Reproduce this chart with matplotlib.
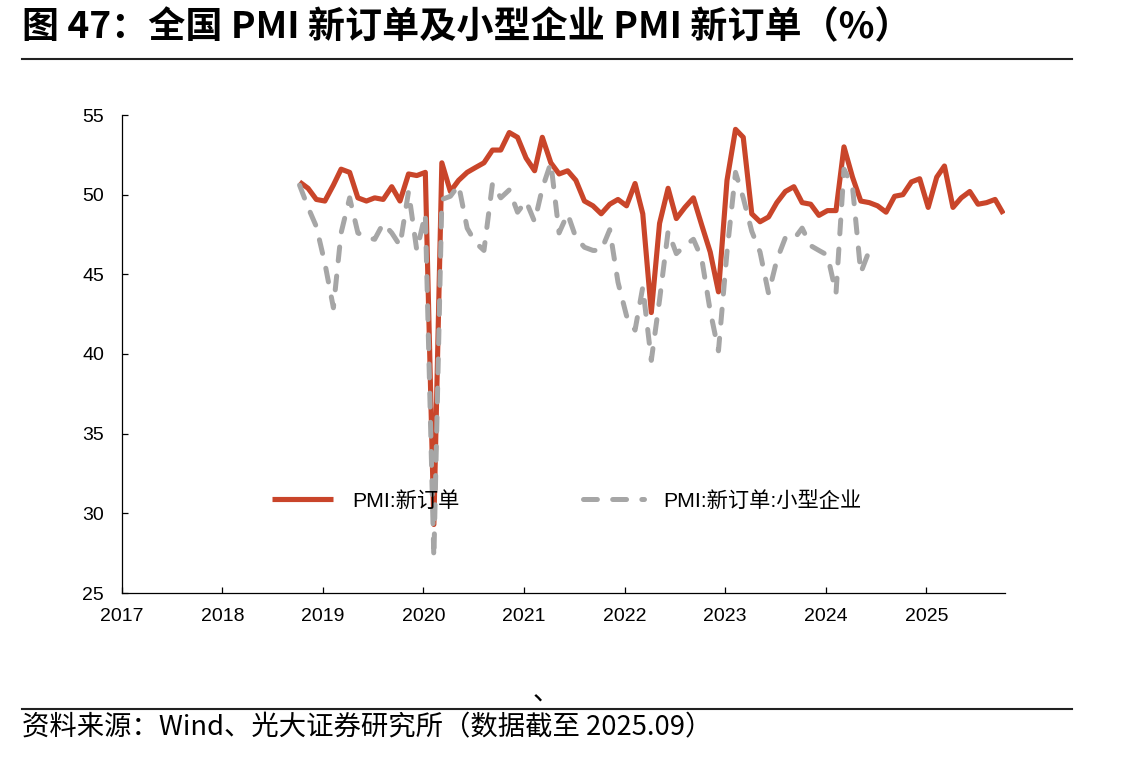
import matplotlib
matplotlib.use('Agg')
import matplotlib.pyplot as plt
import matplotlib.dates as mdates
import pandas as pd
from matplotlib.lines import Line2D

plt.rcParams['font.family'] = ['Liberation Sans', 'Noto Sans CJK SC', 'DejaVu Sans']
plt.rcParams['lines.scale_dashes'] = False

# ---------------- data ----------------
start_month = '2018-10-01'
pmi_new_orders = [50.8, 50.4, 49.7,
                  49.6, 50.6, 51.6, 51.4, 49.8, 49.6, 49.8, 49.7, 50.5, 49.6, 51.3, 51.2,
                  51.4, 29.3, 52.0, 50.2, 50.9, 51.4, 51.7, 52.0, 52.8, 52.8, 53.9, 53.6,
                  52.3, 51.5, 53.6, 52.0, 51.3, 51.5, 50.9, 49.6, 49.3, 48.8, 49.4, 49.7,
                  49.3, 50.7, 48.8, 42.6, 48.2, 50.4, 48.5, 49.2, 49.8, 48.1, 46.4, 43.9,
                  50.9, 54.1, 53.6, 48.8, 48.3, 48.6, 49.5, 50.2, 50.5, 49.5, 49.4, 48.7,
                  49.0, 49.0, 53.0, 51.1, 49.6, 49.5, 49.3, 48.9, 49.9, 50.0, 50.8, 51.0,
                  49.2, 51.1, 51.8, 49.2, 49.8, 50.2, 49.4, 49.5, 49.7, 48.8]
small_new_orders = [50.6, 49.2, 48.0,
                    45.7, 42.9, 47.6, 49.8, 47.6, 47.3, 47.2, 48.2, 47.6, 46.8, 50.2, 46.5,
                    48.8, 27.2, 49.7, 49.9, 50.6, 47.9, 47.0, 46.5, 50.7, 49.8, 50.3, 48.9,
                    49.6, 48.3, 50.4, 52.0, 47.6, 48.8, 47.3, 46.7, 46.5, 46.5, 47.8, 44.5,
                    42.4, 41.5, 44.2, 39.6, 43.4, 47.7, 46.3, 46.8, 47.2, 46.0, 42.7, 40.2,
                    46.4, 51.4, 49.8, 47.7, 46.4, 43.8, 45.9, 47.3, 47.2, 47.9, 46.8, 46.5,
                    46.2, 43.8, 51.6, 50.5, 45.1, 46.5]
series_labels = ['PMI:新订单', 'PMI:新订单:小型企业']
year_ticks = list(range(2017, 2026))
y_ticks = [25, 30, 35, 40, 45, 50, 55]

title_text = '图 47：全国 PMI 新订单及小型企业 PMI 新订单（%）'
source_text = '资料来源：Wind、光大证券研究所（数据截至 2025.09）'

# ---------------- figure ----------------
W, H = 1143, 757
fig = plt.figure(figsize=(W / 100, H / 100), dpi=100)

ax = fig.add_axes([122 / W, 1 - 593 / H, (1005 - 122) / W, (593 - 115) / H])

dates_red = pd.date_range(start_month, periods=len(pmi_new_orders), freq='MS') + pd.Timedelta(days=7)
dates_grey = pd.date_range(start_month, periods=len(small_new_orders), freq='MS') + pd.Timedelta(days=7)

red = '#C9452A'
grey = '#A6A6A6'

ax.plot(dates_red, pmi_new_orders, color=red, lw=3.7, solid_joinstyle='round',
        solid_capstyle='butt', label=series_labels[0], zorder=2)
ax.plot(dates_grey, small_new_orders, color=grey, lw=3.6, linestyle=(0, (10, 11)),
        dash_capstyle='round', dash_joinstyle='round', label=series_labels[1], zorder=3)

ax.set_xlim(pd.Timestamp('2017-01-01'), pd.Timestamp('2025-10-14'))
ax.set_ylim(25, 55)
ax.set_yticks(y_ticks)
ax.set_xticks([pd.Timestamp(f'{y}-01-01') for y in year_ticks])
ax.xaxis.set_major_formatter(mdates.DateFormatter('%Y'))

for s in ['top', 'right']:
    ax.spines[s].set_visible(False)
for s in ['left', 'bottom']:
    ax.spines[s].set_linewidth(0.9)
    ax.spines[s].set_color('black')

ax.tick_params(axis='both', direction='in', length=4, width=0.9, labelsize=14, colors='black')
ax.tick_params(axis='y', pad=13)
ax.tick_params(axis='x', pad=11)

leg = ax.legend(loc='center left', bbox_to_anchor=(0.170, 0.193), ncol=2, frameon=False,
                fontsize=15.3, handlelength=2.85, handletextpad=0.9, columnspacing=5.85,
                borderpad=0, borderaxespad=0)

# ---------------- title / lines / source ----------------
fig.text(22 / W, 1 - 28 / H, title_text, fontsize=26.7, fontweight='bold',
         family=['Noto Sans CJK SC', 'DejaVu Sans'], va='center', ha='left')
fig.add_artist(Line2D([22 / W, 1072 / W], [1 - 59 / H, 1 - 59 / H], color='#222222', lw=1.5))
fig.add_artist(Line2D([22 / W, 1072 / W], [1 - 709 / H, 1 - 709 / H], color='#222222', lw=1.5))
fig.text(546 / W, 1 - 693 / H, '、', fontsize=19, family=['Noto Sans CJK SC'],
         va='center', ha='center')
fig.text(22 / W, 1 - 728 / H, source_text, fontsize=19.7,
         family=['Noto Sans CJK SC', 'DejaVu Sans'], va='center', ha='left')

fig.savefig('out.png', dpi=100)
